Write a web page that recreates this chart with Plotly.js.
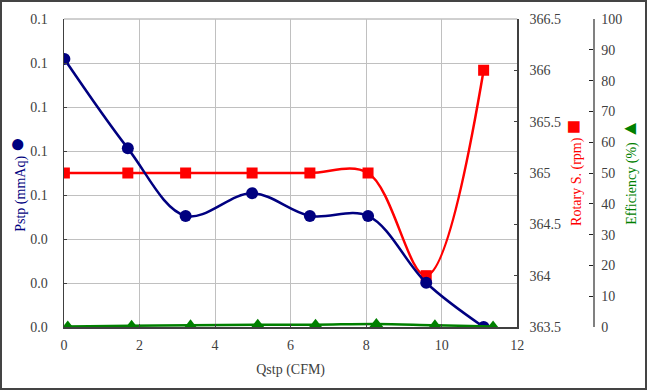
<!DOCTYPE html>
<html>
<head>
<meta charset="utf-8">
<script src="https://cdn.plot.ly/plotly-3.0.1.min.js"></script>
<style>
  html, body { margin: 0; padding: 0; background: #fff; }
  #wrap { position: relative; width: 647px; height: 390px; }
  #chart { width: 647px; height: 390px; }
  #frame { position: absolute; left: 0; top: 0; width: 647px; height: 390px; box-sizing: border-box; border: 2px solid #444; pointer-events: none; }
</style>
</head>
<body>
<div id="wrap"><div id="chart"></div><div id="frame"></div></div>
<script>
// Data
const qstp = [0.01, 1.69, 3.22, 4.98, 6.51, 8.05, 9.59, 11.11];
const pstp = [0.1218, 0.0812, 0.0505, 0.0608, 0.0505, 0.0505, 0.0201, 0.0];
const rotary = [365.0, 365.0, 365.0, 365.0, 365.0, 365.0, 364.0, 366.0];
const qstpEff = [0.1, 1.79, 3.35, 5.13, 6.66, 8.27, 9.82, 11.36];
const efficiency = [0.2, 0.4, 0.55, 0.75, 0.75, 1.0, 0.55, 0.2];

const xTicks = [0, 2, 4, 6, 8, 10, 12];

const serif = 'Liberation Serif';
function tf(color) { return { family: serif, size: 14, color: color || '#404040' }; }

const traces = [
  { x: qstp, y: rotary, yaxis: 'y', type: 'scatter', mode: 'lines+markers',
    line: { color: '#ff0000', width: 2.5, shape: 'spline', smoothing: 1 },
    marker: { symbol: 'square', size: 11, color: '#ff0000' }, name: 'Rotary S.' },
  { x: qstp, y: pstp, yaxis: 'y2', type: 'scatter', mode: 'lines+markers',
    line: { color: '#000080', width: 2.5, shape: 'spline', smoothing: 1 },
    marker: { symbol: 'circle', size: 12, color: '#000080' }, name: 'Pstp' },
  { x: qstpEff, y: efficiency, yaxis: 'y3', type: 'scatter', mode: 'lines+markers',
    line: { color: '#008000', width: 2.5, shape: 'spline', smoothing: 1 },
    marker: { symbol: 'triangle-up', size: 12, color: '#008000' }, name: 'Efficiency' }
];

const layout = {
  width: 647, height: 390,
  margin: { l: 64, r: 54.3, t: 19, b: 63, pad: 0 },
  paper_bgcolor: '#ffffff', plot_bgcolor: '#ffffff',
  showlegend: false,
  font: tf(),
  xaxis: {
    domain: [0, 0.8568], range: [0, 12], tickvals: xTicks, ticktext: xTicks.map(String),
    showgrid: true, gridcolor: '#c0c0c0', gridwidth: 1,
    showline: true, linecolor: '#404040', linewidth: 1.5,
    ticks: 'inside', ticklen: 3, tickcolor: '#404040',
    zeroline: false, tickfont: tf(), anchor: 'y2', ticklabelstandoff: 5,
    title: { text: 'Qstp (CFM)', font: tf(), standoff: 12 }
  },
  yaxis: {
    range: [363.5, 366.5], dtick: 0.5, tick0: 363.5, side: 'right', anchor: 'x',
    showgrid: false, zeroline: false,
    showline: true, linecolor: '#404040', linewidth: 1.5,
    ticks: 'inside', ticklen: 3, tickcolor: '#404040',
    tickfont: tf(), ticklabelstandoff: 8
  },
  yaxis2: {
    range: [0, 0.14], dtick: 0.02, tick0: 0, tickformat: '.1f', side: 'left', overlaying: 'y', anchor: 'x',
    showgrid: true, gridcolor: '#c0c0c0', gridwidth: 1, zeroline: false,
    showline: true, linecolor: '#404040', linewidth: 1.5,
    ticks: 'inside', ticklen: 3, tickcolor: '#404040',
    tickfont: tf(), ticklabelstandoff: 12
  },
  yaxis3: {
    range: [0, 100], dtick: 10, tick0: 0, side: 'right', overlaying: 'y', anchor: 'free', position: 1,
    showgrid: false, zeroline: false,
    showline: true, linecolor: '#808080', linewidth: 1.5,
    ticks: 'inside', ticklen: 4, tickcolor: '#202020',
    tickfont: tf(), ticklabelstandoff: 4
  },
  shapes: [
    { type: 'line', xref: 'paper', yref: 'paper', x0: 0, x1: 0.8568, y0: 1, y1: 1,
      line: { color: '#a0a0a0', width: 1 }, layer: 'below' }
  ],
  annotations: [
    { xref: 'paper', yref: 'paper', x: -0.0889, y: 0.465, xanchor: 'center', yanchor: 'middle',
      textangle: -90, showarrow: false,
      text: 'Pstp (mmAq) <span style="font-size:26px">●</span>',
      font: tf('#000080') },
    { xref: 'paper', yref: 'paper', x: 0.962, y: 0.5, xanchor: 'center', yanchor: 'middle',
      textangle: -90, showarrow: false,
      text: 'Rotary S. (rpm) <span style="font-size:24px">■</span>',
      font: tf('#ff0000') },
    { xref: 'paper', yref: 'paper', x: 1.0687, y: 0.505, xanchor: 'center', yanchor: 'middle',
      textangle: -90, showarrow: false,
      text: 'Efficiency (%) <span style="font-size:20px">▲</span>',
      font: tf('#008000') }
  ]
};

Plotly.newPlot('chart', traces, layout, { displayModeBar: false, staticPlot: true });
</script>
</body>
</html>
